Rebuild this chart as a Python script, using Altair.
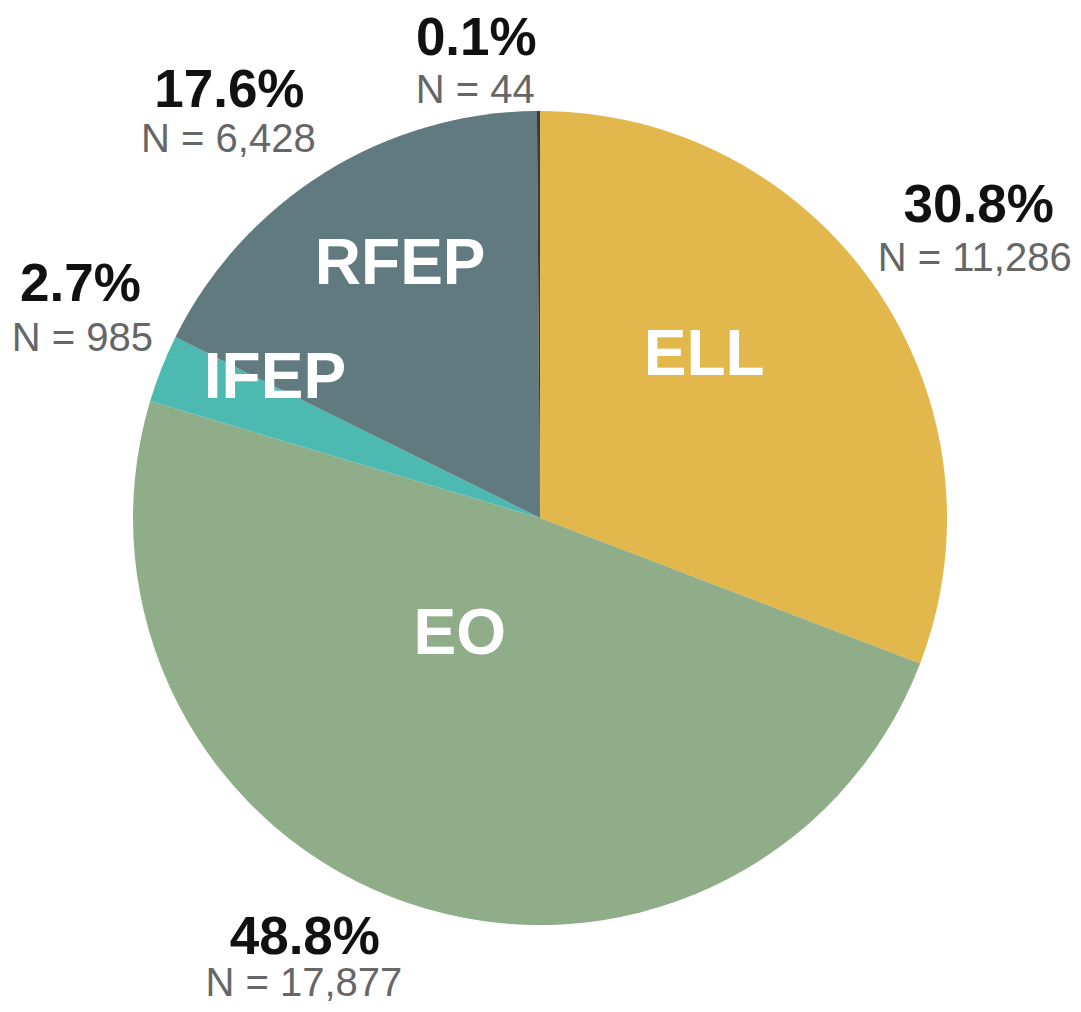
import altair as alt
import pandas as pd

categories = ["ELL", "EO", "IFEP", "RFEP", "Other"]
counts = [11286, 17877, 985, 6428, 44]
pct_labels = ["30.8%", "48.8%", "2.7%", "17.6%", "0.1%"]
n_labels = ["N = 11,286", "N = 17,877", "N = 985", "N = 6,428", "N = 44"]
inside_labels = ["ELL", "EO", "IFEP", "RFEP", ""]
slice_colors = ["#E2B74B", "#8FAD88", "#4DBAB2", "#607A7F", "#3A3A3A"]

df = pd.DataFrame({
    "idx": list(range(len(categories))),
    "category": categories,
    "count": counts,
    "pct": pct_labels,
    "n": n_labels,
    "inside": inside_labels,
})

CX, CY = 532, 510
FONT = "Liberation Sans"

base = alt.Chart(df).encode(
    theta=alt.Theta("count:Q", stack=True),
    order=alt.Order("idx:Q"),
    x=alt.value(CX),
    y=alt.value(CY),
)

pie = base.mark_arc(outerRadius=407).encode(
    color=alt.Color("category:N",
                    scale=alt.Scale(domain=categories, range=slice_colors),
                    legend=None)
)

# label placement: (radius, dx, dy)
inside_pos = {0: (232, -27, -31), 1: (140, -35, -16), 2: (300, 14, -29), 3: (290, 14, -7)}
pct_pos = {0: (450, 68, -57), 1: (450, -90, -6), 2: (450, -41, -68), 3: (450, -72, -45), 4: (450, -62, -29)}
n_pos = {0: (450, 64, -4), 1: (450, -91, 40), 2: (450, -39, -14), 3: (450, -73, 4), 4: (450, -63, 23)}

layers = [pie]
for i, (r, dx, dy) in inside_pos.items():
    layers.append(
        base.transform_calculate(lab=f"datum.idx == {i} ? datum.inside : ''")
        .mark_text(radius=r, dx=dx, dy=dy, font=FONT, fontSize=64, fontWeight="bold",
                   color="#FFFFFF", align="center", baseline="middle")
        .encode(text="lab:N")
    )
for i, (r, dx, dy) in pct_pos.items():
    layers.append(
        base.transform_calculate(lab=f"datum.idx == {i} ? datum.pct : ''")
        .mark_text(radius=r, dx=dx, dy=dy, font=FONT, fontSize=53, fontWeight="bold",
                   color="#111111", align="center", baseline="middle")
        .encode(text="lab:N")
    )
for i, (r, dx, dy) in n_pos.items():
    layers.append(
        base.transform_calculate(lab=f"datum.idx == {i} ? datum.n : ''")
        .mark_text(radius=r, dx=dx, dy=dy, font=FONT, fontSize=40,
                   color="#666666", align="center", baseline="middle")
        .encode(text="lab:N")
    )

chart = alt.layer(*layers).properties(
    width=1065, height=996,
    padding=0,
    autosize=alt.AutoSizeParams(type="none"),
).configure_view(stroke=None)

chart.save("out.html", embed_options={"renderer": "svg", "actions": False})
